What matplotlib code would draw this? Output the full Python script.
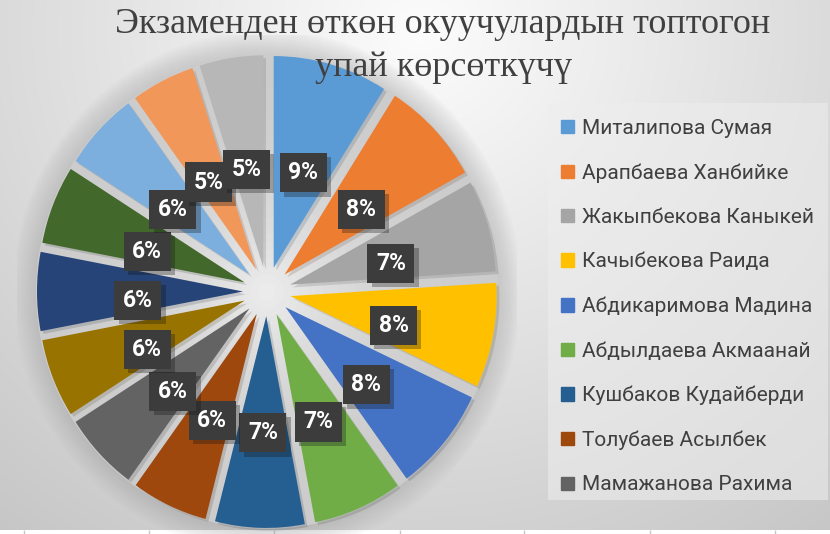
import numpy as np
import matplotlib.pyplot as plt
import matplotlib.patches as mpatches
import matplotlib.patheffects as pe

title = "Экзаменден өткөн окуучулардын топтогон\nупай көрсөткүчү"
names = ["Миталипова Сумая", "Арапбаева Ханбийке", "Жакыпбекова Каныкей",
         "Качыбекова Раида", "Абдикаримова Мадина", "Абдылдаева Акмаанай",
         "Кушбаков Кудайберди", "Толубаев Асылбек", "Мамажанова Рахима"]
shares = [9, 8, 7, 8, 8, 7, 7, 6, 6, 6, 6, 6, 6, 5, 5]
colors = ["#5B9BD5", "#ED7D31", "#A5A5A5", "#FFC000", "#4472C4", "#70AD47",
          "#255E91", "#9E480E", "#636363", "#997300", "#264478", "#43682B",
          "#7CAFDD", "#F1975A", "#B7B7B7"]
sheet_lines = [24, 149, 274, 400, 524, 650, 775]

W, H = 830, 534
cx, cy = 267, 291.5        # pie centre in pixels (from top)
radius = 2.06
explode = 0.24
label_drop = 0.085         # Excel nudges the data labels slightly downward

fig = plt.figure(figsize=(W / 100, H / 100), dpi=100)

# background with soft gradient
bg = fig.add_axes([0, 0, 1, 1])
bg.set_zorder(0)
yy, xx = np.mgrid[0:H, 0:W]
dist = np.hypot(xx - 420, (yy - 30) * 1.05)
shade = np.clip(252 - dist * 0.08, 195, 252) / 255
bg.imshow(np.dstack([shade] * 3), extent=(0, W, H, 0), aspect='auto')
bg.add_patch(mpatches.Rectangle((548, 103), 280, 397, fc='#eeeeee', ec='none', alpha=0.55))
bg.add_patch(mpatches.Rectangle((0, 530), W, 4, fc='white', ec='none'))
bg.vlines(sheet_lines, 530, 534, color='#c8c8c8', lw=1)
bg.set_xlim(0, W)
bg.set_ylim(H, 0)
bg.axis('off')

# pie (slightly taller than wide, as in the source image)
SX, SY = 500, 514
ax = fig.add_axes([(cx - SX / 2) / W, (H - cy - SY / 2) / H, SX / W, SY / H])
ax.set_zorder(1)
ax.patch.set_alpha(0)

R = radius + explode
for i in range(12):
    ax.add_patch(mpatches.Circle((0, 0), R + 0.02 * (12 - i), fc='#a0a0a0', ec='none', alpha=0.04))
n = 30
for i in range(n):
    f = i / (n - 1)
    c = 0.80 + 0.13 * f ** 2
    ax.add_patch(mpatches.Circle((0, 0), R * (1 - f) + 0.01, fc=(c, c, c), ec='none'))

wedges, texts, autotexts = ax.pie(
    shares, colors=colors, startangle=90, counterclock=False,
    radius=radius, explode=[explode] * len(shares),
    autopct='%1.0f%%', pctdistance=0.51,
    textprops=dict(color='white', fontsize=16.5, fontweight='bold', family=['Roboto', 'DejaVu Sans']),
    wedgeprops=dict(linewidth=0))
for w in wedges:
    w.set_path_effects([pe.SimplePatchShadow(offset=(2, -2), alpha=0.15), pe.Normal()])
for t in autotexts:
    x, y = t.get_position()
    y -= label_drop
    t.set_position((x, y))
    box = mpatches.Rectangle((x - 0.235, y - 0.19), 0.47, 0.38, fc='#3c3c3c', ec='none', zorder=2)
    box.set_path_effects([pe.SimplePatchShadow(offset=(3, -3), alpha=0.3), pe.Normal()])
    ax.add_patch(box)
    t.set_zorder(3)

ax.set_xlim(-SX / 200, SX / 200)
ax.set_ylim(-SY / 200 / 1.028, SY / 200 / 1.028)
ax.set_aspect('auto')
ax.axis('off')

handles = [mpatches.Patch(color=c) for c in colors[:len(names)]]
ax.legend(handles, names, loc='upper left', bbox_to_anchor=(561 / W, 1 - 119 / H),
          bbox_transform=fig.transFigure, frameon=False,
          prop=dict(family=['Roboto', 'DejaVu Sans'], size=15), labelcolor='#404040',
          handlelength=0.6, handleheight=0.6, handletextpad=0.4,
          labelspacing=1.215, borderaxespad=0, borderpad=0)

fig.text(443 / W, 1 - 8 / H, title, ha='center', va='top', color='#404040',
         family=['Liberation Serif', 'DejaVu Serif'], fontsize=26, linespacing=1.42)

fig.savefig('out.png', dpi=100)
